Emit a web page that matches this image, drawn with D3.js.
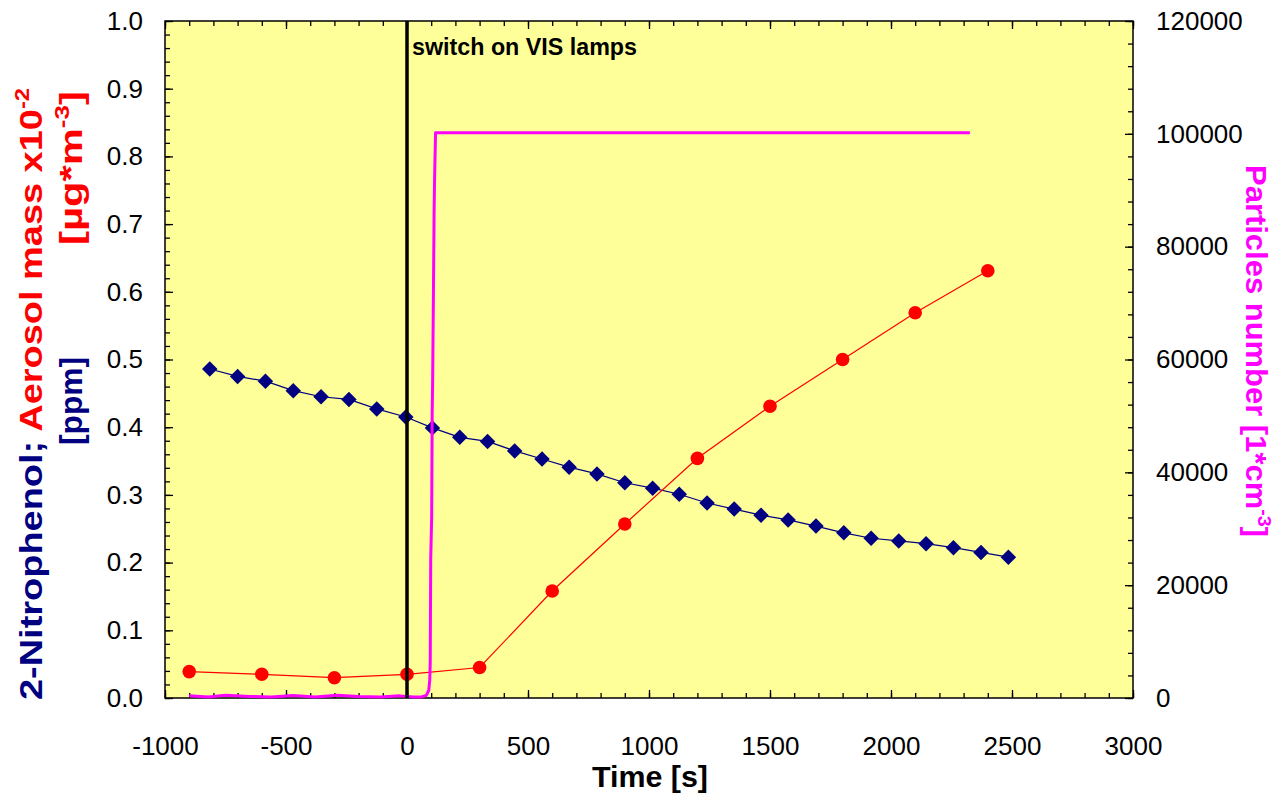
<!DOCTYPE html>
<html>
<head>
<meta charset="utf-8">
<script src="https://cdn.jsdelivr.net/npm/d3@7"></script>
<style>
  html, body { margin: 0; padding: 0; background: #ffffff; }
  svg { display: block; }
  text { font-family: "Liberation Sans", Arial, sans-serif; }
</style>
</head>
<body>
<svg id="chart" width="1279" height="794"></svg>
<script>
// ---------- data ----------
const nitroTime = [-815, -700, -585, -470, -355, -240, -125, -5, 105, 218, 333, 445, 558, 670, 785, 900, 1015, 1125, 1240, 1352, 1463, 1575, 1690, 1805, 1918, 2032, 2145, 2258, 2372, 2485];
const nitroPpm = [0.486, 0.475, 0.468, 0.454, 0.445, 0.441, 0.427, 0.415, 0.399, 0.385, 0.379, 0.365, 0.353, 0.341, 0.331, 0.318, 0.310, 0.301, 0.288, 0.279, 0.270, 0.263, 0.254, 0.244, 0.236, 0.232, 0.228, 0.222, 0.215, 0.208];

const aerosolTime = [-900, -600, -300, 0, 300, 600, 900, 1200, 1500, 1800, 2100, 2400];
const aerosolMass = [0.039, 0.035, 0.030, 0.035, 0.045, 0.158, 0.257, 0.354, 0.431, 0.500, 0.569, 0.631];

const particleTime = [-900, -820, -750, -650, -560, -470, -380, -290, -200, -110, -30, 30, 60, 80, 90, 94, 96, 98, 102, 104, 106, 109, 112, 114, 118, 2326];
const particleNumber = [200, 0, 300, 100, 0, 250, 0, 300, 100, 0, 200, 0, 0, 300, 1200, 3000, 6000, 24500, 32000, 50000, 56000, 70500, 86000, 92000, 100000, 100000];

const xTickValues = [-1000, -500, 0, 500, 1000, 1500, 2000, 2500, 3000];
const leftTickValues = [0, 0.1, 0.2, 0.3, 0.4, 0.5, 0.6, 0.7, 0.8, 0.9, 1.0];
const rightTickValues = [0, 20000, 40000, 60000, 80000, 100000, 120000];

const switchTime = 0;
const annotationText = "switch on VIS lamps";

// ---------- layout ----------
const svg = d3.select("#chart");
const L = 165, R = 1133, T = 21, B = 698;

const x = d3.scaleLinear().domain([-1000, 3000]).range([L, R]);
const yL = d3.scaleLinear().domain([0, 1]).range([B, T]);
const yR = d3.scaleLinear().domain([0, 120000]).range([B, T]);

// plot background
svg.append("rect").attr("x", L).attr("y", T).attr("width", R - L).attr("height", B - T)
  .attr("fill", "#FFFF99");

// ---------- axes ----------
function styleAxis(g) {
  g.select(".domain").remove();
  g.selectAll(".tick line").attr("stroke", "#000").attr("stroke-width", 1.3);
  g.selectAll("text").attr("font-size", 26).attr("fill", "#000")
    .attr("font-family", "'Liberation Sans', Arial, sans-serif");
}
const plainInt = d => String(d);

const xMinor = d3.range(-1000, 3001, 100);
const yLMinor = d3.range(0, 1.0001, 0.02);
const yRMinor = d3.range(0, 120001, 4000);

// bottom
svg.append("g").attr("transform", `translate(0,${B})`)
  .call(d3.axisBottom(x).tickValues(xMinor).tickSize(-5).tickFormat("")).call(styleAxis);
svg.append("g").attr("transform", `translate(0,${B})`)
  .call(d3.axisBottom(x).tickValues(xTickValues).tickSize(-8).tickPadding(39).tickFormat(plainInt))
  .call(styleAxis);
// top
svg.append("g").attr("transform", `translate(0,${T})`)
  .call(d3.axisTop(x).tickValues(xMinor).tickSize(-5).tickFormat("")).call(styleAxis);
svg.append("g").attr("transform", `translate(0,${T})`)
  .call(d3.axisTop(x).tickValues(xTickValues).tickSize(-8).tickFormat("")).call(styleAxis);
// left
svg.append("g").attr("transform", `translate(${L},0)`)
  .call(d3.axisLeft(yL).tickValues(yLMinor).tickSize(-5).tickFormat("")).call(styleAxis);
svg.append("g").attr("transform", `translate(${L},0)`)
  .call(d3.axisLeft(yL).tickValues(leftTickValues).tickSize(-8).tickPadding(22).tickFormat(d3.format(".1f")))
  .call(styleAxis);
// right
svg.append("g").attr("transform", `translate(${R},0)`)
  .call(d3.axisRight(yR).tickValues(yRMinor).tickSize(-5).tickFormat("")).call(styleAxis);
svg.append("g").attr("transform", `translate(${R},0)`)
  .call(d3.axisRight(yR).tickValues(rightTickValues).tickSize(-8).tickPadding(23).tickFormat(plainInt))
  .call(styleAxis);

// frame
svg.append("rect").attr("x", L).attr("y", T).attr("width", R - L).attr("height", B - T)
  .attr("fill", "none").attr("stroke", "#000").attr("stroke-width", 1.5);

// ---------- series ----------
// 2-Nitrophenol
const nitro = nitroTime.map((t, i) => [t, nitroPpm[i]]);
svg.append("path").datum(nitro)
  .attr("fill", "none").attr("stroke", "#000080").attr("stroke-width", 1.2)
  .attr("d", d3.line().x(d => x(d[0])).y(d => yL(d[1])));
svg.append("g").selectAll("path").data(nitro).join("path")
  .attr("d", d3.symbol().type(d3.symbolSquare).size(120))
  .attr("transform", d => `translate(${x(d[0])},${yL(d[1])}) rotate(45)`)
  .attr("fill", "#000080");

// Aerosol mass
const aero = aerosolTime.map((t, i) => [t, aerosolMass[i]]);
svg.append("path").datum(aero)
  .attr("fill", "none").attr("stroke", "#FF0000").attr("stroke-width", 1.2)
  .attr("d", d3.line().x(d => x(d[0])).y(d => yL(d[1])));
svg.append("g").selectAll("circle").data(aero).join("circle")
  .attr("cx", d => x(d[0])).attr("cy", d => yL(d[1])).attr("r", 6.8)
  .attr("fill", "#FF0000");

// Particles number
const part = particleTime.map((t, i) => [t, particleNumber[i]]);
svg.append("path").datum(part)
  .attr("fill", "none").attr("stroke", "#FF00FF").attr("stroke-width", 3)
  .attr("stroke-linejoin", "round")
  .attr("d", d3.line().x(d => x(d[0])).y(d => yR(d[1]) - 1));

// switch-on line
svg.append("line")
  .attr("x1", x(switchTime)).attr("x2", x(switchTime))
  .attr("y1", T).attr("y2", B)
  .attr("stroke", "#000").attr("stroke-width", 3.5);

svg.append("text").text(annotationText)
  .attr("x", x(switchTime) + 5).attr("y", 55)
  .attr("font-size", 23).attr("font-weight", "bold").attr("fill", "#000")
  .attr("textLength", 225).attr("lengthAdjust", "spacingAndGlyphs");

// ---------- titles ----------
svg.append("text").text("Time [s]")
  .attr("x", (x(-1000) + x(3000)) / 2 + 1).attr("y", 787)
  .attr("text-anchor", "middle").attr("font-size", 30).attr("font-weight", "bold")
  .attr("textLength", 116).attr("lengthAdjust", "spacingAndGlyphs");

// left title line 1
const lt1 = svg.append("text")
  .attr("transform", "translate(42,700) rotate(-90)")
  .attr("font-size", 32).attr("font-weight", "bold")
  .attr("textLength", 612).attr("lengthAdjust", "spacingAndGlyphs");
lt1.append("tspan").attr("fill", "#000080").text("2-Nitrophenol; ");
lt1.append("tspan").attr("fill", "#FF0000").text("Aerosol mass x10");
lt1.append("tspan").attr("fill", "#FF0000").attr("font-size", 20).attr("dy", -13).text("-2");

// left title line 2
svg.append("text")
  .attr("transform", "translate(82,401) rotate(-90)")
  .attr("text-anchor", "middle").attr("font-size", 32).attr("font-weight", "bold")
  .attr("fill", "#000080")
  .attr("textLength", 88).attr("lengthAdjust", "spacingAndGlyphs")
  .text("[ppm]");
const lt2 = svg.append("text")
  .attr("transform", "translate(82,168) rotate(-90)")
  .attr("text-anchor", "middle").attr("font-size", 32).attr("font-weight", "bold")
  .attr("fill", "#FF0000")
  .attr("textLength", 154).attr("lengthAdjust", "spacingAndGlyphs");
lt2.append("tspan").text("[\u00B5g*m");
lt2.append("tspan").attr("font-size", 20).attr("dy", -13).text("-3");
lt2.append("tspan").attr("dy", 13).text("]");

// right title
const rt = svg.append("text")
  .attr("transform", "translate(1246,165) rotate(90)")
  .attr("font-size", 30).attr("font-weight", "bold").attr("fill", "#FF00FF")
  .attr("textLength", 372).attr("lengthAdjust", "spacingAndGlyphs");
rt.append("tspan").text("Particles number [1*cm");
rt.append("tspan").attr("font-size", 19).attr("dy", -12).text("-3");
rt.append("tspan").attr("dy", 12).text("]");
</script>
</body>
</html>
